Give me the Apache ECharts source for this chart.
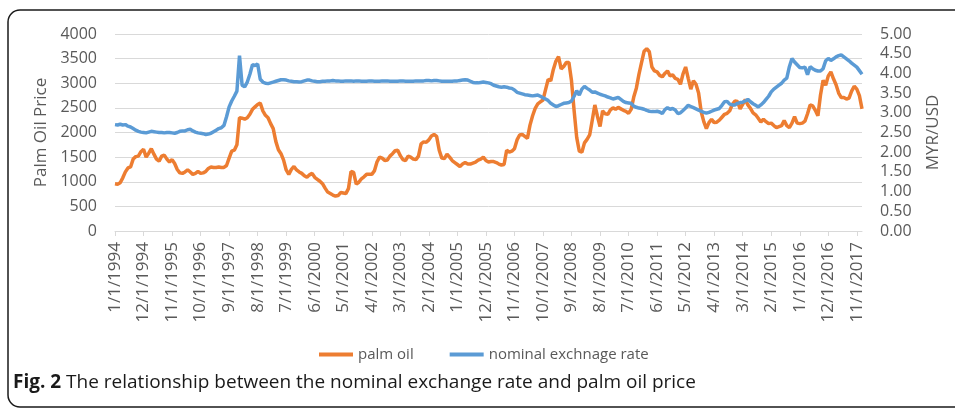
<!DOCTYPE html>
<html>
<head>
<meta charset="utf-8">
<script src="https://cdn.jsdelivr.net/npm/echarts@6/dist/echarts.min.js"></script>
<style>
  html, body { margin: 0; padding: 0; background: #fff; }
  #chart { width: 955px; height: 408px; }
</style>
</head>
<body>
<div id="chart"></div>
<script>
// monthly observations, Jan 1994 .. Jan 2018
const startYear = 1994;
const monthCount = 289;

const palmOil = [
  960, 950, 980, 1080, 1200, 1280, 1300, 1460, 1510, 1520, 1610, 1660,
  1500, 1580, 1670, 1560, 1460, 1420, 1520, 1540, 1460, 1400, 1450, 1370,
  1250, 1180, 1170, 1200, 1240, 1200, 1150, 1170, 1210, 1170, 1180, 1210,
  1270, 1300, 1290, 1290, 1300, 1290, 1290, 1330, 1480, 1620, 1640, 1750,
  2300, 2290, 2270, 2300, 2370, 2470, 2520, 2570, 2600, 2440, 2350, 2300,
  2180, 2080, 1820, 1650, 1570, 1440, 1240, 1150, 1250, 1310, 1240, 1200,
  1170, 1120, 1090, 1140, 1170, 1090, 1050, 1010, 960, 870, 790, 760,
  730, 710, 720, 780, 770, 760, 860, 1210, 1190, 950, 990, 1060,
  1100, 1150, 1150, 1150, 1220, 1400, 1500, 1480, 1430, 1440, 1520, 1570,
  1630, 1640, 1530, 1450, 1430, 1520, 1500, 1460, 1450, 1520, 1770, 1810,
  1800, 1850, 1930, 1960, 1920, 1640, 1480, 1470, 1560, 1500, 1430, 1390,
  1350, 1310, 1360, 1390, 1360, 1360, 1380, 1400, 1440, 1460, 1500, 1430,
  1400, 1410, 1410, 1390, 1360, 1340, 1350, 1640, 1600, 1620, 1670, 1850,
  1950, 1960, 1920, 1880, 2150, 2340, 2490, 2580, 2620, 2660, 2870, 3080,
  3050, 3280, 3450, 3540, 3290, 3340, 3420, 3420, 3050, 2450, 1900, 1620,
  1600, 1790, 1860, 1950, 2250, 2560, 2330, 2120, 2440, 2380, 2370, 2460,
  2500, 2470, 2510, 2480, 2450, 2430, 2390, 2470, 2720, 2900, 3180, 3420,
  3650, 3700, 3640, 3330, 3250, 3230, 3160, 3130, 3200, 3250, 3150, 3170,
  3100, 3080, 2980, 3190, 3330, 3100, 2880, 3050, 2980, 2800, 2420, 2220,
  2080, 2200, 2270, 2200, 2210, 2250, 2310, 2370, 2390, 2440, 2570, 2640,
  2630, 2480, 2570, 2670, 2560, 2490, 2400, 2360, 2290, 2210, 2270, 2220,
  2180, 2190, 2140, 2100, 2120, 2140, 2240, 2140, 2100, 2190, 2320, 2190,
  2180, 2190, 2230, 2380, 2560, 2540, 2450, 2340, 2760, 3060, 2960, 3150,
  3230, 3090, 2970, 2800, 2710, 2710, 2680, 2700, 2840, 2940, 2880, 2750,
  2480
];

const exchangeRate = [
  2.70, 2.69, 2.71, 2.69, 2.70, 2.66, 2.64, 2.60, 2.56, 2.53, 2.51, 2.50,
  2.49, 2.51, 2.53, 2.52, 2.51, 2.50, 2.50, 2.49, 2.50, 2.50, 2.49, 2.48,
  2.50, 2.53, 2.54, 2.54, 2.57, 2.58, 2.54, 2.51, 2.49, 2.48, 2.47, 2.45,
  2.46, 2.48, 2.52, 2.56, 2.60, 2.62, 2.68, 2.90, 3.15, 3.30, 3.42, 3.55,
  4.45, 3.70, 3.66, 3.78, 3.98, 4.22, 4.20, 4.24, 3.85, 3.78, 3.75, 3.74,
  3.76, 3.78, 3.80, 3.82, 3.84, 3.84, 3.83, 3.81, 3.80, 3.79, 3.79, 3.78,
  3.79, 3.81, 3.83, 3.83, 3.81, 3.80, 3.79, 3.79, 3.80, 3.80, 3.81, 3.81,
  3.82, 3.81, 3.81, 3.80, 3.80, 3.81, 3.81, 3.81, 3.80, 3.81, 3.81, 3.80,
  3.80, 3.80, 3.81, 3.81, 3.80, 3.80, 3.80, 3.81, 3.81, 3.81, 3.80, 3.80,
  3.80, 3.80, 3.81, 3.81, 3.80, 3.80, 3.80, 3.80, 3.81, 3.81, 3.81, 3.81,
  3.82, 3.82, 3.81, 3.82, 3.82, 3.81, 3.80, 3.80, 3.80, 3.80, 3.80, 3.81,
  3.81, 3.82, 3.83, 3.84, 3.83, 3.80, 3.77, 3.76, 3.76, 3.77, 3.78, 3.77,
  3.76, 3.74, 3.70, 3.68, 3.66, 3.65, 3.66, 3.65, 3.63, 3.62, 3.58, 3.52,
  3.50, 3.48, 3.46, 3.45, 3.44, 3.43, 3.44, 3.45, 3.42, 3.38, 3.35, 3.31,
  3.24, 3.20, 3.16, 3.18, 3.21, 3.24, 3.25, 3.26, 3.30, 3.42, 3.56, 3.45,
  3.60, 3.67, 3.62, 3.58, 3.52, 3.53, 3.50, 3.47, 3.45, 3.43, 3.40, 3.38,
  3.35, 3.37, 3.39, 3.34, 3.29, 3.26, 3.25, 3.24, 3.17, 3.14, 3.12, 3.11,
  3.09, 3.06, 3.04, 3.03, 3.03, 3.04, 3.02, 2.98, 3.08, 3.13, 3.09, 3.11,
  3.07, 2.98, 3.00, 3.06, 3.12, 3.19, 3.16, 3.13, 3.10, 3.07, 3.04, 3.01,
  2.99, 3.01, 3.04, 3.07, 3.09, 3.11, 3.19, 3.28, 3.29, 3.22, 3.20, 3.20,
  3.24, 3.26, 3.27, 3.30, 3.34, 3.28, 3.23, 3.19, 3.15, 3.20, 3.26, 3.34,
  3.42, 3.53, 3.60, 3.65, 3.70, 3.75, 3.83, 3.88, 4.17, 4.38, 4.29, 4.22,
  4.15, 4.14, 4.16, 3.97, 4.17, 4.12, 4.08, 4.06, 4.06, 4.12, 4.32, 4.38,
  4.33, 4.37, 4.42, 4.45, 4.47, 4.42, 4.37, 4.32, 4.26, 4.21, 4.16, 4.07,
  3.98
];

const seriesNames = ['palm oil', 'nominal exchnage rate'];

// category labels in the sheet's m/d/yyyy style
const months = [];
for (let i = 0; i < monthCount; i++) {
  months.push((i % 12 + 1) + '/1/' + (startYear + Math.floor(i / 12)));
}

const textGrey = '#595959';
const gridGrey = '#d9d9d9';
const font = 'Open Sans';

const chart = echarts.init(document.getElementById('chart'));

chart.setOption({
  animation: false,
  textStyle: { fontFamily: font },
  grid: { left: 115, right: 93, top: 34, bottom: 177, outerBoundsMode: 'none' },
  legend: {
    data: seriesNames,
    left: 314,
    top: 342,
    icon: 'rect',
    itemWidth: 34,
    itemHeight: 4,
    itemGap: 36,
    textStyle: { color: textGrey, fontSize: 15, fontFamily: font }
  },
  xAxis: {
    type: 'category',
    data: months,
    boundaryGap: false,
    axisLine: { lineStyle: { color: gridGrey, width: 1 } },
    axisTick: { interval: 10, length: 5, lineStyle: { color: gridGrey } },
    axisLabel: { interval: 10, rotate: 90, margin: 11, color: textGrey, fontSize: 17, fontFamily: font },
    splitLine: { show: false }
  },
  yAxis: [
    {
      type: 'value',
      min: 0,
      max: 4000,
      interval: 500,
      name: 'Palm Oil Price',
      nameLocation: 'middle',
      nameGap: 64,
      nameTextStyle: { color: textGrey, fontSize: 17, fontFamily: font },
      axisLine: { show: false },
      axisTick: { show: false },
      axisLabel: { color: textGrey, fontSize: 16, margin: 18, fontFamily: font, formatter: v => String(v) },
      splitLine: { lineStyle: { color: gridGrey, width: 1 } }
    },
    {
      type: 'value',
      position: 'right',
      min: 0,
      max: 5,
      interval: 0.5,
      name: 'MYR/USD',
      nameLocation: 'middle',
      nameGap: 63,
      nameTextStyle: { color: textGrey, fontSize: 17, fontFamily: font },
      axisLine: { show: false },
      axisTick: { show: false },
      axisLabel: {
        color: textGrey, fontSize: 16, margin: 18, fontFamily: font,
        formatter: v => v.toFixed(2)
      },
      splitLine: { show: false }
    }
  ],
  series: [
    {
      name: seriesNames[0],
      type: 'line',
      data: palmOil,
      yAxisIndex: 0,
      showSymbol: false,
      itemStyle: { color: '#ED7D31' },
      lineStyle: { color: '#ED7D31', width: 3.5 }
    },
    {
      name: seriesNames[1],
      type: 'line',
      data: exchangeRate,
      yAxisIndex: 1,
      showSymbol: false,
      itemStyle: { color: '#5B9BD5' },
      lineStyle: { color: '#5B9BD5', width: 3.5 }
    }
  ],
  graphic: [
    {
      type: 'rect',
      silent: true,
      shape: { x: 8, y: 10, width: 1000, height: 397, r: 12 },
      style: { fill: 'none', stroke: '#1a1a1a', lineWidth: 1.5 }
    },
    {
      type: 'text',
      left: 13,
      top: 373,
      style: {
        text: '{b|Fig. 2} The relationship between the nominal exchange rate and palm oil price',
        font: '19px "Open Sans"',
        fill: '#1a1a1a',
        rich: {
          b: { fontWeight: 'bold', fontSize: 19, fontFamily: font, fill: '#1a1a1a' }
        }
      }
    }
  ]
});
</script>
</body>
</html>
